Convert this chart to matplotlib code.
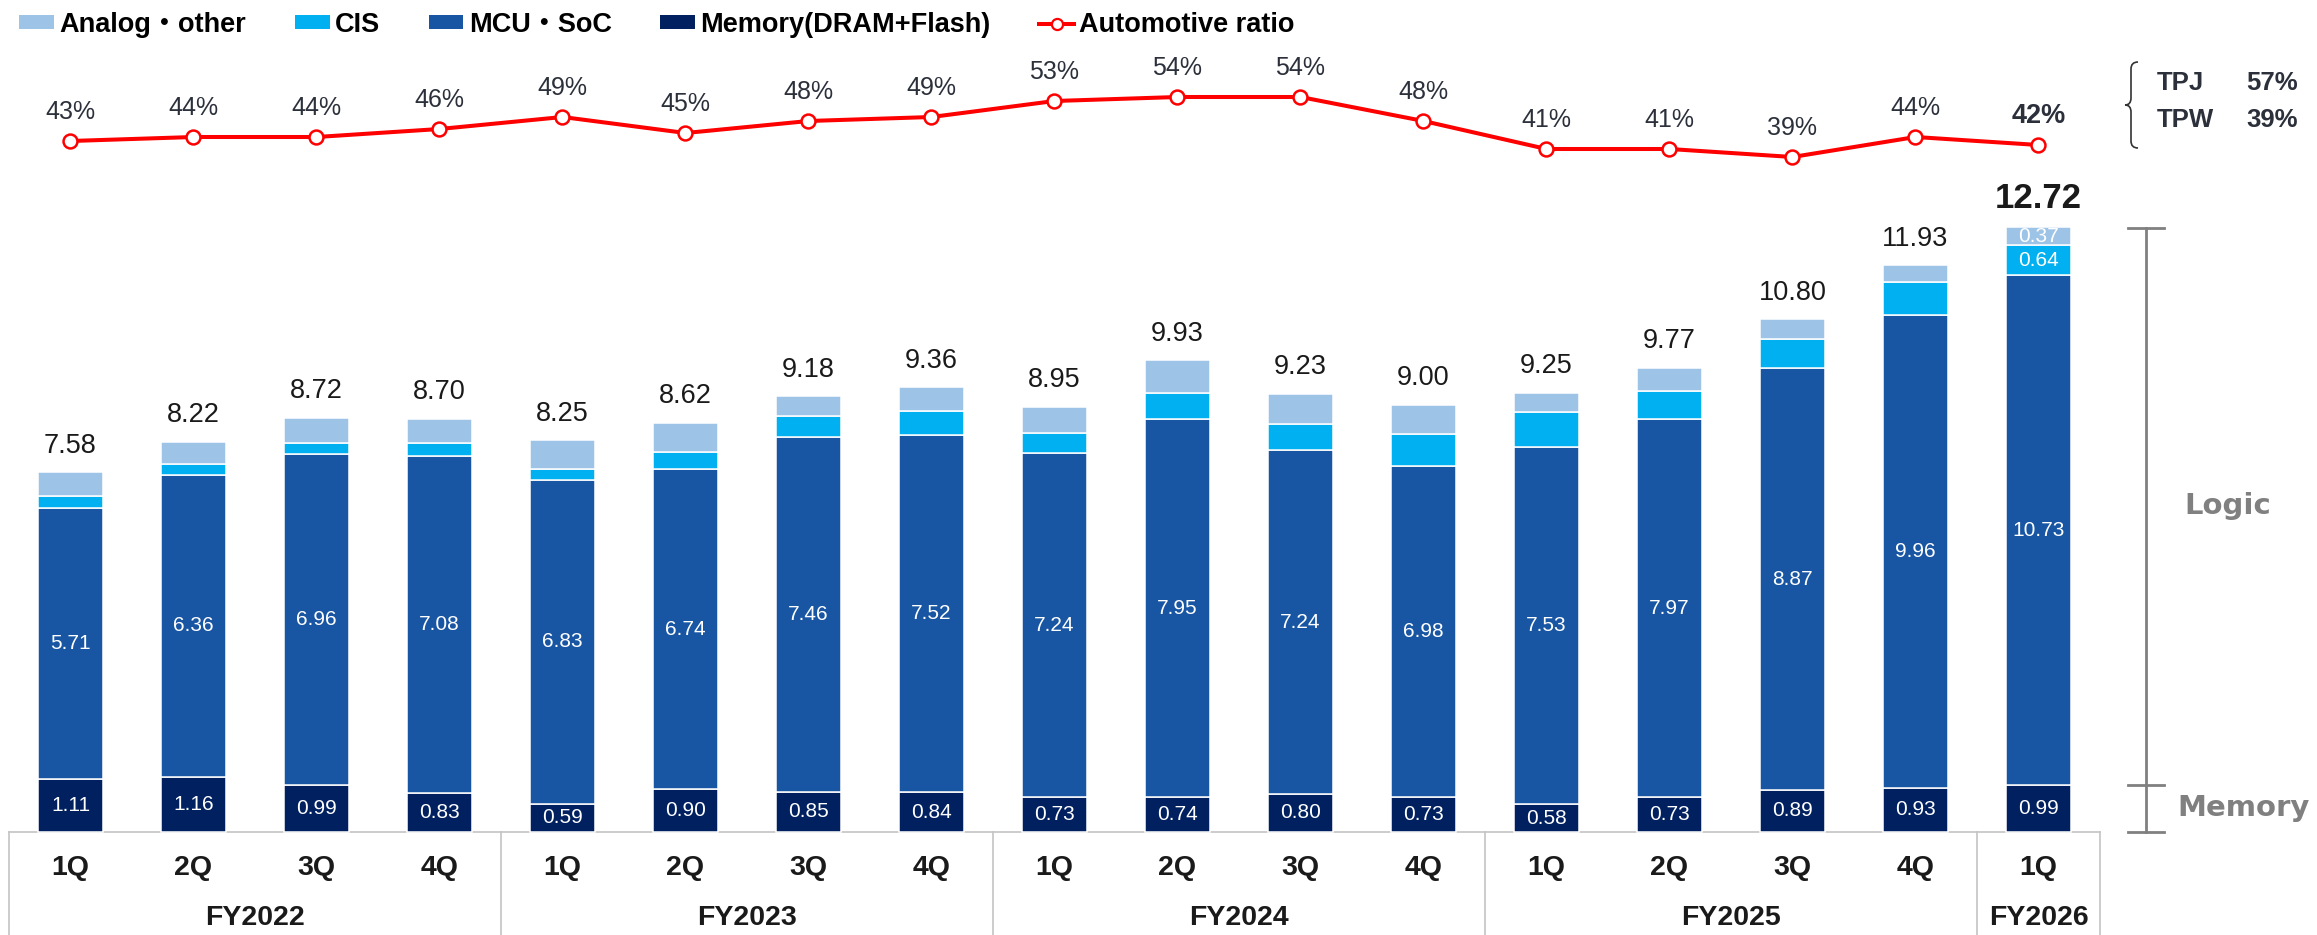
import matplotlib
matplotlib.use("Agg")
import matplotlib.pyplot as plt
import numpy as np
from matplotlib.patches import Patch, PathPatch
from matplotlib.lines import Line2D
from matplotlib.path import Path

plt.rcParams['font.family'] = ['Liberation Sans', 'Noto Sans CJK JP', 'DejaVu Sans']

# ---- data ----
quarters = ['1Q', '2Q', '3Q', '4Q'] * 4 + ['1Q']
fiscal_years = ['FY2022', 'FY2023', 'FY2024', 'FY2025', 'FY2026']
fy_sizes = [4, 4, 4, 4, 1]

memory = [1.11, 1.16, 0.99, 0.83, 0.59, 0.90, 0.85, 0.84, 0.73, 0.74, 0.80, 0.73, 0.58, 0.73, 0.89, 0.93, 0.99]
mcu_soc = [5.71, 6.36, 6.96, 7.08, 6.83, 6.74, 7.46, 7.52, 7.24, 7.95, 7.24, 6.98, 7.53, 7.97, 8.87, 9.96, 10.73]
cis = [0.26, 0.22, 0.25, 0.27, 0.23, 0.37, 0.44, 0.50, 0.44, 0.56, 0.55, 0.67, 0.73, 0.58, 0.62, 0.68, 0.64]
analog = [0.50, 0.48, 0.52, 0.52, 0.60, 0.61, 0.43, 0.50, 0.54, 0.68, 0.64, 0.62, 0.41, 0.49, 0.42, 0.36, 0.37]
totals = [7.58, 8.22, 8.72, 8.70, 8.25, 8.62, 9.18, 9.36, 8.95, 9.93, 9.23, 9.00, 9.25, 9.77, 10.80, 11.93, 12.72]
auto_ratio = [43, 44, 44, 46, 49, 45, 48, 49, 53, 54, 54, 48, 41, 41, 39, 44, 42]
tpj_tpw = [('TPJ', '57%'), ('TPW', '39%')]

C_ANALOG = '#9DC3E6'
C_CIS = '#00B0F0'
C_MCU = '#1855A3'
C_MEM = '#002060'
C_RED = '#FF0000'
C_TXT = '#2B303B'
C_GRAY = '#808080'

W, H = 2317, 935
X0, DX = 70.5, 123.0   # first bar centre and bar pitch, in pixels
fig = plt.figure(figsize=(W / 100, H / 100), dpi=100)

# bar axes: x in bar index, y in value
ax = fig.add_axes([0, 0, 1, 1])
ax.set_xlim(-X0 / DX, (W - X0) / DX)
ax.set_ylim(-103 / 47.5, (H - 103) / 47.5)
ax.axis('off')

x = np.arange(len(totals))
mem = np.array(memory)
mcu = np.array(mcu_soc)
cs = np.array(cis)
an = np.array(analog)
bw = 0.53
kw = dict(width=bw, edgecolor='white', linewidth=1.1)
ax.bar(x, mem, color=C_MEM, **kw)
ax.bar(x, mcu, bottom=mem, color=C_MCU, **kw)
ax.bar(x, cs, bottom=mem + mcu, color=C_CIS, **kw)
ax.bar(x, an, bottom=mem + mcu + cs, color=C_ANALOG, **kw)

for i in x:
    ax.text(i, mem[i] / 2, f'{memory[i]:.2f}', ha='center', va='center', color='white', fontsize=15)
    ax.text(i, mem[i] + mcu[i] / 2, f'{mcu_soc[i]:.2f}', ha='center', va='center', color='white', fontsize=15)
    last = i == len(x) - 1
    ax.annotate(f'{totals[i]:.2f}', (i, mem[i] + mcu[i] + cs[i] + an[i]), xytext=(0, 14),
                textcoords='offset points', ha='center', va='baseline',
                fontsize=25 if last else 19.5, fontweight='bold' if last else 'normal', color='#1a1a1a')
# small segment labels on the latest bar
j = len(x) - 1
ax.text(j, mem[j] + mcu[j] + cs[j] / 2, f'{cis[j]:.2f}', ha='center', va='center', color='white', fontsize=15)
ax.text(j, mem[j] + mcu[j] + cs[j] + an[j] / 2, f'{analog[j]:.2f}', ha='center', va='center', color='white', fontsize=15)

# category table below bars
ylo = ax.get_ylim()[0]
edges = np.concatenate([[0], np.cumsum(fy_sizes)]) - 0.5
ax.plot([edges[0], edges[-1]], [0, 0], color='#C4C4C4', lw=1.2, zorder=0)
for e in edges:
    ax.plot([e, e], [0, ylo], color='#C4C4C4', lw=1.2, zorder=0)
for i, q in enumerate(quarters):
    ax.text(i, -0.76, q, ha='center', va='center', fontsize=20.5, fontweight='bold', color='#1a1a1a')
for k, fy in enumerate(fiscal_years):
    ax.text((edges[k] + edges[k + 1]) / 2, -1.81, fy, ha='center', va='center',
            fontsize=20.5, fontweight='bold', color='#1a1a1a')

# Logic / Memory bracket
bx = (2146 - X0) / DX
tw = 0.15
top = totals[-1]
ax.plot([bx, bx], [0, top], color=C_GRAY, lw=2)
for yy in [0, memory[-1], top]:
    ax.plot([bx - tw, bx + tw], [yy, yy], color=C_GRAY, lw=2)
ax.text((2228 - X0) / DX, (memory[-1] + top) / 2, 'Logic', ha='center', va='center',
        fontsize=21, fontweight='bold', color=C_GRAY, family='DejaVu Sans')
ax.text((2244 - X0) / DX, memory[-1] / 2, 'Memory', ha='center', va='center',
        fontsize=21, fontweight='bold', color=C_GRAY, family='DejaVu Sans')

# automotive ratio line
ax2 = fig.add_axes([0, 0, 1, 1], sharex=ax)
ax2.set_ylim(-155.5, 78.25)
ax2.axis('off')
ax2.plot(x, auto_ratio, color=C_RED, lw=2.9, marker='o', markersize=10,
         markerfacecolor='white', markeredgecolor=C_RED, markeredgewidth=1.8)
for i, v in enumerate(auto_ratio):
    last = i == len(x) - 1
    ax2.annotate(f'{v}%', (i, v), xytext=(0, 21), textcoords='offset points', ha='center', va='center',
                 fontsize=19.5 if last else 18, fontweight='bold' if last else 'normal', color=C_TXT)

# TPJ / TPW brace
def fx(px):
    return px / W

def fy_(py):
    return 1 - py / H

x1, xm, x0 = 2138, 2131, 2125
yt, yb = 62, 148
ym = (yt + yb) / 2
verts = [(x1, yt), (xm, yt), (xm, yt + 7), (xm, ym - 7), (xm, ym), (x0, ym), (x0, ym),
         (xm, ym), (xm, ym + 7), (xm, yb - 7), (xm, yb), (x1, yb)]
codes = [Path.MOVETO, Path.CURVE3, Path.CURVE3, Path.LINETO, Path.CURVE3, Path.CURVE3,
         Path.MOVETO, Path.CURVE3, Path.CURVE3, Path.LINETO, Path.CURVE3, Path.CURVE3]
brace = Path([(fx(a), fy_(b)) for a, b in verts], codes)
fig.patches.append(PathPatch(brace, transform=fig.transFigure, fill=False, edgecolor='#333333', lw=1.2))
for k, (name, pct) in enumerate(tpj_tpw):
    yy = fy_(83 + 37 * k)
    fig.text(fx(2157), yy, name, ha='left', va='center', fontsize=18.5, fontweight='bold', color=C_TXT)
    fig.text(fx(2298), yy, pct, ha='right', va='center', fontsize=18.5, fontweight='bold', color=C_TXT)

# legend
handles = [Patch(facecolor=C_ANALOG), Patch(facecolor=C_CIS), Patch(facecolor=C_MCU), Patch(facecolor=C_MEM),
           Line2D([], [], color=C_RED, lw=2.9, marker='o', markersize=8, markerfacecolor='white',
                  markeredgecolor=C_RED, markeredgewidth=1.6)]
labels = ['Analog・other', 'CIS', 'MCU・SoC', 'Memory(DRAM+Flash)', 'Automotive ratio']
fig.legend(handles, labels, loc='center left', bbox_to_anchor=(fx(19), fy_(25)), ncol=5, frameon=False,
           handlelength=1.29, handleheight=0.4, handletextpad=0.19, columnspacing=1.8,
           borderpad=0, borderaxespad=0, prop=dict(size=19.5, weight='bold'))

fig.savefig('out.png', dpi=100)
